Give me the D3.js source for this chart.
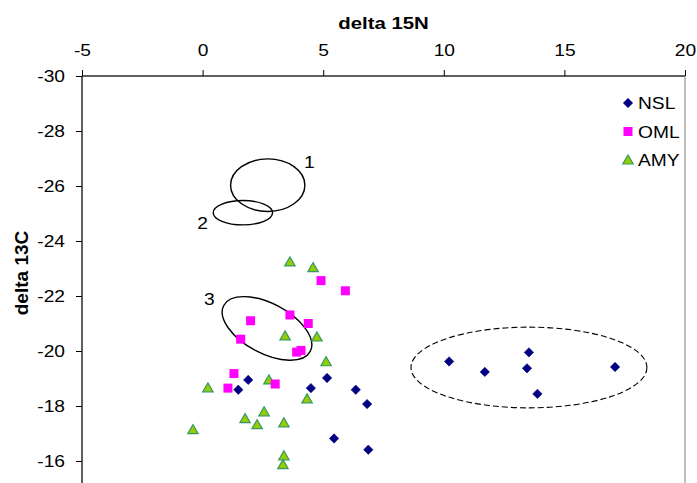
<!DOCTYPE html>
<html>
<head>
<meta charset="utf-8">
<script src="https://cdn.jsdelivr.net/npm/d3@7"></script>
<style>
  body { margin: 0; background: #fff; }
  text { font-family: "Liberation Sans", Arial, sans-serif; fill: #000; }
</style>
</head>
<body>
<div id="chart"></div>
<script>
// delta 15N (x) / delta 13C (y) values
var nslX = [10.22, 11.70, 13.53, 13.45, 13.88, 17.10, 1.89, 1.48, 4.49, 5.16, 6.35, 6.82, 5.45, 6.87];
var nslY = [-19.62, -19.24, -19.95, -19.37, -18.44, -19.42, -18.95, -18.59, -18.65, -19.02, -18.59, -18.07, -16.82, -16.41];

var omlX = [4.91, 5.92, 1.99, 3.62, 4.38, 1.58, 3.90, 4.08, 1.30, 1.05, 3.01];
var omlY = [-22.56, -22.19, -21.10, -21.31, -21.00, -20.43, -19.96, -20.02, -19.18, -18.65, -18.80];

var amyX = [3.62, 4.58, 3.42, 4.74, 5.12, 0.22, 2.75, 4.33, 2.55, 1.76, 2.26, 3.37, -0.40, 3.37, 3.33];
var amyY = [-23.24, -23.03, -20.55, -20.51, -19.61, -18.66, -18.95, -18.26, -17.79, -17.54, -17.32, -17.39, -17.14, -16.19, -15.87];

var xTicks = [-5, 0, 5, 10, 15, 20];
var yTicks = [-30, -28, -26, -24, -22, -20, -18, -16];
var seriesNames = ["NSL", "OML", "AMY"];

// hand drawn outlines: centre and half axes in data units, angle in degrees
var ellCx = [2.70, 1.67, 2.67, 13.53];
var ellCy = [-26.03, -25.03, -20.82, -19.40];
var ellRx = [1.54, 1.23, 2.03, 4.89];
var ellRy = [0.955, 0.443, 0.905, 1.468];
var ellAngle = [0, 0, 28, 0];
var ellDashed = [false, false, false, true];

var noteText = ["1", "2", "3"];
var noteX = [4.43, 0.0, 0.28];
var noteY = [-26.88, -24.64, -21.90];

var W = 697, H = 483;
var plotL = 82, plotR = 685, plotT = 76;
var sx = 1.2; // the picture is stretched sideways, so is its lettering

var svg = d3.select("#chart").append("svg").attr("width", W).attr("height", H);

var x = d3.scaleLinear().domain([-5, 20]).range([plotL, plotR]);
var y = d3.scaleLinear().domain([-30, -15]).range([plotT, 488.5]);

function stretch(sel) {
    sel.each(function() {
        var t = d3.select(this);
        var tx = +t.attr("x") || 0, ty = +t.attr("y") || 0;
        t.attr("x", 0).attr("y", 0).attr("transform", "translate(" + tx + "," + ty + ") scale(" + sx + ",1)");
    });
}

// plot area border
svg.append("rect").attr("x", plotL).attr("y", plotT).attr("width", plotR - plotL).attr("height", y(-15) - plotT)
    .attr("fill", "none").attr("stroke", "#808080").attr("stroke-width", 1);

var xAxis = d3.axisTop(x).tickValues(xTicks).tickFormat(d => String(d)).tickSize(6).tickPadding(14);
var gx = svg.append("g").attr("transform", "translate(0," + plotT + ")").call(xAxis);
gx.selectAll("text").style("font-size", "16px").call(stretch);

var yAxis = d3.axisLeft(y).tickValues(yTicks).tickFormat(d => String(d)).tickSize(6).tickPadding(11);
var gy = svg.append("g").attr("transform", "translate(" + plotL + ",0)").call(yAxis);
gy.selectAll("text").style("font-size", "16px").call(stretch);

svg.selectAll(".domain, .tick line").attr("stroke", "#000");
gx.select(".domain").attr("d", "M" + plotL + ",0H" + plotR);
gy.select(".domain").attr("d", "M0," + plotT + "V" + y(-15));

svg.append("text").attr("transform", "translate(" + (plotL + plotR) / 2 + ",29) scale(" + sx + ",1)")
    .attr("text-anchor", "middle").style("font-size", "17px").style("font-weight", "bold").text("delta 15N");

svg.append("text").attr("transform", "translate(28,273) rotate(-90)")
    .attr("text-anchor", "middle").style("font-size", "19px").style("font-weight", "bold").text("delta 13C");

// outlines
ellCx.forEach(function(cx, i) {
    svg.append("ellipse")
        .attr("cx", 0).attr("cy", 0)
        .attr("rx", x(ellRx[i]) - x(0)).attr("ry", y(ellRy[i]) - y(0))
        .attr("transform", "translate(" + x(cx) + "," + y(ellCy[i]) + ") rotate(" + ellAngle[i] + ")")
        .attr("fill", "none").attr("stroke", "#000")
        .attr("stroke-width", ellDashed[i] ? 1.1 : 1.4)
        .attr("stroke-dasharray", ellDashed[i] ? "6,3" : null);
});

svg.selectAll(".note").data(noteText).enter().append("text")
    .attr("class", "note")
    .attr("transform", (d, i) => "translate(" + x(noteX[i]) + "," + (y(noteY[i]) + 6) + ") scale(" + sx + ",1)")
    .attr("text-anchor", "middle").style("font-size", "16px").text(d => d);

var diamond = d3.symbol().type(d3.symbolDiamond2).size(56);
var square = "M-4.5,-4.5H4.5V4.5H-4.5Z";
var triangle = "M0,-5L5.2,4L-5.2,4Z";

function drawNSL(g) { g.append("path").attr("d", diamond).attr("fill", "#000080").attr("stroke", "#000080").attr("stroke-width", 0.6); }
function drawOML(g) { g.append("path").attr("d", square).attr("fill", "#ff00ff"); }
function drawAMY(g) { g.append("path").attr("d", triangle).attr("fill", "#99cc00").attr("stroke", "#339966").attr("stroke-width", 1.2); }

svg.selectAll(".amy").data(amyX).enter().append("g").attr("class", "amy")
    .attr("transform", (d, i) => "translate(" + x(d) + "," + y(amyY[i]) + ")").call(drawAMY);
svg.selectAll(".oml").data(omlX).enter().append("g").attr("class", "oml")
    .attr("transform", (d, i) => "translate(" + x(d) + "," + y(omlY[i]) + ")").call(drawOML);
svg.selectAll(".nsl").data(nslX).enter().append("g").attr("class", "nsl")
    .attr("transform", (d, i) => "translate(" + x(d) + "," + y(nslY[i]) + ")").call(drawNSL);

// legend
var drawers = [drawNSL, drawOML, drawAMY];
var legend = svg.append("g").attr("transform", "translate(628,103)");
seriesNames.forEach(function(name, i) {
    var row = legend.append("g").attr("transform", "translate(0," + (i * 28.5) + ")");
    drawers[i](row.append("g"));
    row.append("text").attr("transform", "translate(10,6) scale(" + sx + ",1)").style("font-size", "16px").text(name);
});
</script>
</body>
</html>
